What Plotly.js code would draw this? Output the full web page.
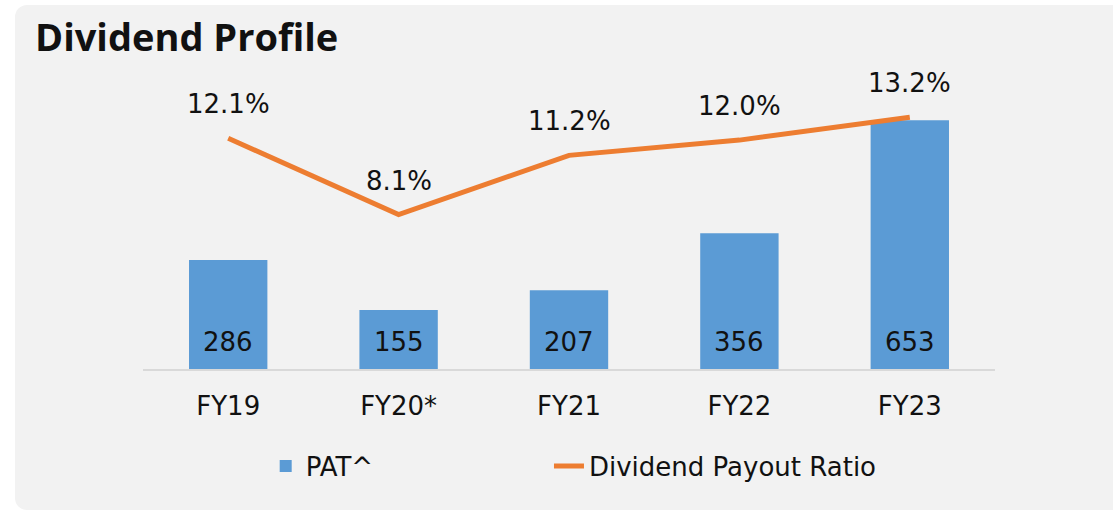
<!DOCTYPE html>
<html>
<head>
<meta charset="utf-8">
<script src="https://cdn.plot.ly/plotly-3.0.1.min.js"></script>
<style>
  html, body { margin: 0; padding: 0; background: #ffffff; width: 1113px; height: 512px; overflow: hidden; }
  #panel { position: absolute; left: 15px; top: 5px; width: 1110px; height: 505px; background: #f2f2f2; border-radius: 12px; }
  #chart { position: absolute; left: 0; top: 0; width: 1113px; height: 512px; }
</style>
</head>
<body>
<div id="panel"></div>
<div id="chart"></div>
<script>
const categories = ["FY19", "FY20*", "FY21", "FY22", "FY23"];
const patValues = [286, 155, 207, 356, 653];
const payoutRatio = [12.1, 8.1, 11.2, 12.0, 13.2];
const payoutLabels = ["12.1%", "8.1%", "11.2%", "12.0%", "13.2%"];

const FONT = "DejaVu Sans, Open Sans, sans-serif";
const TITLE_FONT = "Open Sans, Noto Sans, sans-serif";
const FS = 26;

const barTrace = {
  type: "bar",
  name: "PAT^",
  x: categories,
  y: patValues,
  marker: { color: "#5b9bd5" },
  legend: "legend",
  hoverinfo: "x+y"
};

const lineTrace = {
  type: "scatter",
  mode: "lines",
  name: "Dividend Payout Ratio",
  x: categories,
  y: payoutRatio,
  yaxis: "y2",
  legend: "legend2",
  line: { color: "#ed7d31", width: 5 },
  hoverinfo: "x+y"
};

const annotations = [];
categories.forEach((c, i) => {
  annotations.push({
    x: c, y: 0, xref: "x", yref: "y",
    text: String(patValues[i]),
    showarrow: false, yanchor: "bottom", yshift: 10,
    font: { family: FONT, size: FS, color: "#111111" }
  });
  annotations.push({
    x: c, y: payoutRatio[i], xref: "x", yref: "y2",
    text: payoutLabels[i],
    showarrow: false, yanchor: "bottom", yshift: 17,
    font: { family: FONT, size: FS, color: "#111111" }
  });
});

const legendCommon = {
  orientation: "h",
  xanchor: "left",
  yref: "container",
  y: 1 - 466 / 512,
  yanchor: "middle",
  bgcolor: "rgba(0,0,0,0)",
  font: { family: FONT, size: FS, color: "#111111" }
};

const layout = {
  width: 1113,
  height: 512,
  paper_bgcolor: "rgba(0,0,0,0)",
  plot_bgcolor: "rgba(0,0,0,0)",
  margin: { l: 143, r: 118, t: 60, b: 143 },
  font: { family: FONT, size: FS, color: "#111111" },
  title: {
    text: "Dividend Profile",
    xref: "container", yref: "container",
    x: 35 / 1113, xanchor: "left",
    y: 1 - 38 / 512, yanchor: "middle",
    font: { family: TITLE_FONT, size: 38, weight: 700, color: "#111111" }
  },
  bargap: 0.54,
  xaxis: {
    type: "category",
    showgrid: false,
    zeroline: false,
    showline: true,
    linecolor: "#d9d9d9",
    linewidth: 2,
    ticks: "",
    ticklabelstandoff: 13,
    tickfont: { family: FONT, size: FS, color: "#111111" },
    fixedrange: true
  },
  yaxis: {
    range: [0, 811],
    visible: false,
    showgrid: false,
    zeroline: false,
    fixedrange: true
  },
  yaxis2: {
    range: [0, 16.2],
    overlaying: "y",
    side: "right",
    visible: false,
    showgrid: false,
    zeroline: false,
    fixedrange: true
  },
  showlegend: true,
  legend: Object.assign({}, legendCommon, { x: 0.144 }),
  legend2: Object.assign({}, legendCommon, { x: 0.4765 }),
  annotations: annotations
};

Plotly.newPlot("chart", [barTrace, lineTrace], layout, { displayModeBar: false, staticPlot: true });
</script>
</body>
</html>
